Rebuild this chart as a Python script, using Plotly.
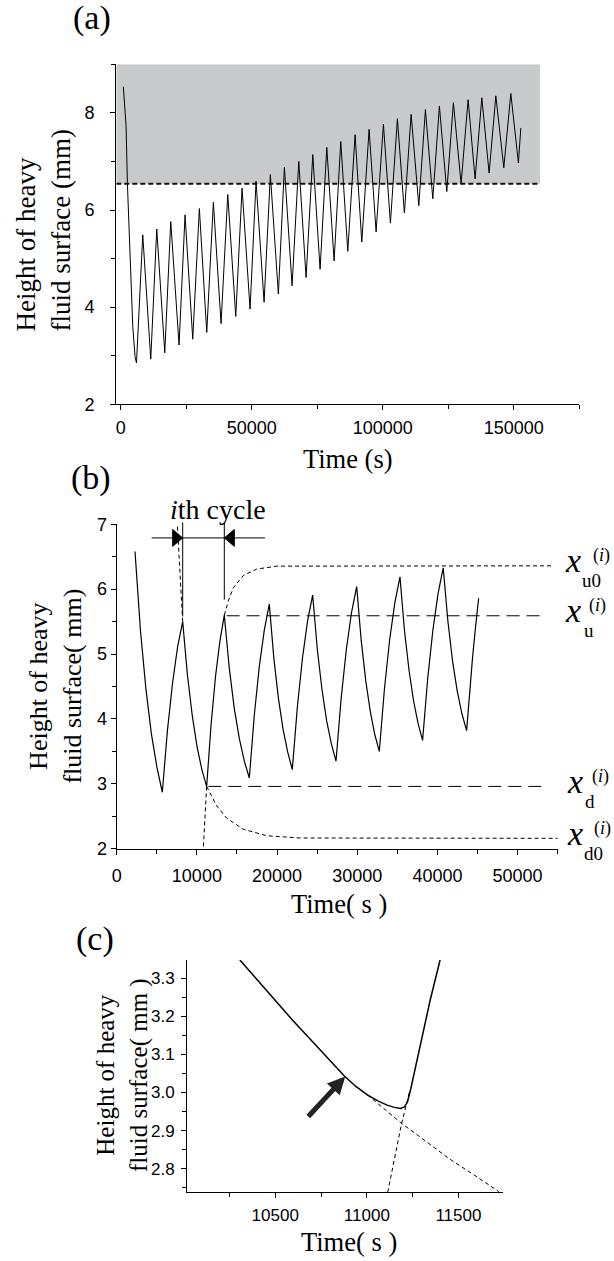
import plotly.graph_objects as go

W, H = 614, 1261

# ---------------- data ----------------
# (a) long-run record of the heavy-fluid surface height
a_time = [990, 2020, 2530, 3550, 4580, 5460, 6000,
          8400, 11450, 13740, 16800, 19080, 22250, 24540, 27480, 30000, 32820,
          35350, 38280, 40840, 43890, 46300, 49350, 51640, 54700, 57100, 60150,
          62450, 65390, 67940, 70730, 73290, 76070, 78630, 81420, 83970, 86640,
          89430, 91990, 94780, 97450, 100240, 102910, 105580, 108250, 110810,
          113750, 116270, 119090, 121610, 124430, 126950, 129890, 132560, 135230,
          137800, 140580, 143140, 146190, 148860, 151760, 152680]
a_height = [8.54, 7.74, 6.56, 4.88, 3.60, 2.98, 2.85,
            5.49, 2.93, 5.61, 3.06, 5.76, 3.22, 5.90, 3.34, 6.03, 3.48,
            6.16, 3.66, 6.32, 3.81, 6.45, 3.96, 6.59, 4.10, 6.73, 4.27,
            6.88, 4.44, 7.00, 4.61, 7.14, 4.78, 7.29, 4.95, 7.41, 5.15,
            7.55, 5.34, 7.66, 5.55, 7.77, 5.73, 7.88, 5.94, 7.97,
            6.09, 8.07, 6.23, 8.14, 6.38, 8.21, 6.54, 8.27, 6.64,
            8.31, 6.76, 8.35, 6.87, 8.40, 6.97, 7.69]
a_threshold = 6.54
a_shade_end = 160000
a_xrange = [-1700, 175000]
a_yrange = [2, 9]

# (b) first cycles
b_time = [2282, 2964, 3645, 4327, 5008, 5690, 6325, 6960, 7595, 8230,
          8828, 9426, 10024, 10622, 11220, 11770, 12320, 12870, 13420,
          14044, 14668, 15292, 15916, 16540, 17163, 17785, 18408, 19030,
          19604, 20178, 20752, 21326, 21900, 22535, 23170, 23805, 24440,
          25022, 25604, 26186, 26768, 27350, 27995, 28640, 29285, 29930,
          30494, 31058, 31622, 32186, 32750, 33395, 34040, 34685, 35330,
          35894, 36458, 37022, 37586, 38150, 38793, 39435, 40078, 40720,
          41304, 41888, 42472, 43056, 43640, 44015, 44390, 44765, 45140]
b_height = [6.58, 5.36, 4.46, 3.77, 3.26, 2.87, 3.82, 4.55, 5.11, 5.50,
            4.67, 4.05, 3.57, 3.22, 2.96, 3.91, 4.65, 5.20, 5.60,
            4.78, 4.16, 3.70, 3.35, 3.09, 4.06, 4.81, 5.37, 5.77,
            4.93, 4.31, 3.84, 3.49, 3.22, 4.19, 4.94, 5.51, 5.91,
            5.07, 4.45, 3.97, 3.62, 3.35, 4.32, 5.07, 5.64, 6.04,
            5.21, 4.59, 4.12, 3.76, 3.50, 4.47, 5.22, 5.79, 6.19,
            5.36, 4.75, 4.28, 3.93, 3.67, 4.63, 5.37, 5.93, 6.33,
            5.51, 4.89, 4.43, 4.08, 3.82, 4.43, 4.96, 5.43, 5.86]
xu0_level, xu_level, xd_level, xd0_level = 6.36, 5.59, 2.96, 2.16
b_xu0_t = [13420, 13950, 14540, 15790, 17460, 19950, 54200]
b_xu0_h = [5.60, 5.83, 6.02, 6.21, 6.31, 6.355, 6.36]
b_xd0_t = [11220, 12470, 13716, 15790, 18700, 22850, 55000]
b_xd0_h = [2.96, 2.66, 2.47, 2.30, 2.20, 2.165, 2.16]
b_riseback_t = [11220, 11030, 10800]
b_riseback_h = [2.96, 2.50, 2.00]
b_fallback_t = [8230, 7900, 7560]
b_fallback_h = [5.50, 6.25, 7.00]
b_xu_span = [13700, 53600]
b_xd_span = [11420, 53600]
cycle_bounds = [8230, 13420]
cycle_line_bottoms = [5.58, 5.84]
cycle_bar_level = 6.79
cycle_bar_span = [4360, 18490]
b_xrange = [0, 55000]
b_yrange = [2, 7]

# (c) zoom on the i-th minimum
c_time = [10307, 10400, 10496, 10600, 10713, 10800, 10876, 10940, 11003, 11060,
          11111, 11150, 11184, 11205, 11222, 11240, 11274, 11346, 11400]
c_height = [3.348, 3.297, 3.243, 3.187, 3.129, 3.083, 3.044, 3.016, 2.994, 2.978,
            2.967, 2.961, 2.958, 2.962, 2.975, 3.010, 3.086, 3.243, 3.348]
c_fallext_t = [11003, 11100, 11190, 11300, 11450, 11590, 11720]
c_fallext_h = [2.994, 2.956, 2.919, 2.880, 2.826, 2.782, 2.740]
c_riseext_t = [11114, 11190, 11232]
c_riseext_h = [2.738, 2.919, 3.000]
c_arrow_tail = (10673, 2.933)
c_arrow_tip = (10882, 3.042)
c_xrange = [10020, 11745]
c_yrange = [2.738, 3.348]

# ---------------- styling helpers ----------------
SERIF = 'Liberation Serif, Times New Roman, serif'
SANS = 'Liberation Sans, Arial, sans-serif'
DOT = '4px,3px'
LONGDASH = '13px,7px'


def dom_x(p0, p1):
    return [p0 / W, p1 / W]


def dom_y(top, bottom):
    return [1 - bottom / H, 1 - top / H]


def axis_style(**kw):
    base = dict(showline=True, linecolor='black', linewidth=1.3, mirror=False,
                ticks='outside', ticklen=5, tickwidth=1.2, tickcolor='black',
                showgrid=False, zeroline=False,
                tickfont=dict(family=SANS, size=18, color='black'))
    base.update(kw)
    return base


fig = go.Figure()

# (a)
fig.add_trace(go.Scatter(x=a_time, y=a_height, mode='lines',
                         line=dict(color='black', width=1),
                         xaxis='x', yaxis='y', hoverinfo='skip'))
fig.add_trace(go.Scatter(x=[a_xrange[0], a_shade_end], y=[a_threshold, a_threshold],
                         mode='lines', line=dict(color='#111111', width=2, dash='5px,3px'),
                         xaxis='x', yaxis='y', hoverinfo='skip'))

# (b)
dotted = dict(color='black', width=1, dash=DOT)
fig.add_trace(go.Scatter(x=b_time, y=b_height, mode='lines',
                         line=dict(color='black', width=1.2),
                         xaxis='x2', yaxis='y2', hoverinfo='skip'))
for tt, hh in [(b_xu0_t, b_xu0_h), (b_xd0_t, b_xd0_h),
               (b_riseback_t, b_riseback_h), (b_fallback_t, b_fallback_h)]:
    fig.add_trace(go.Scatter(x=tt, y=hh, mode='lines', line=dotted,
                             xaxis='x2', yaxis='y2', hoverinfo='skip'))
for span, lev in [(b_xu_span, xu_level), (b_xd_span, xd_level)]:
    fig.add_trace(go.Scatter(x=span, y=[lev, lev], mode='lines',
                             line=dict(color='black', width=1, dash=LONGDASH),
                             xaxis='x2', yaxis='y2', hoverinfo='skip'))

# (c)
fig.add_trace(go.Scatter(x=c_time, y=c_height, mode='lines',
                         line=dict(color='black', width=1.5),
                         xaxis='x3', yaxis='y3', hoverinfo='skip'))
for tt, hh in [(c_fallext_t, c_fallext_h), (c_riseext_t, c_riseext_h)]:
    fig.add_trace(go.Scatter(x=tt, y=hh, mode='lines', line=dotted,
                             xaxis='x3', yaxis='y3', hoverinfo='skip'))

# ---------------- shapes ----------------
shapes = []
shapes.append(dict(type='rect', xref='x', yref='y', x0=a_xrange[0], x1=a_shade_end,
                   y0=a_threshold, y1=a_yrange[1], fillcolor='#c9cacc',
                   line=dict(width=0), layer='below'))
# i-th cycle markers
shapes.append(dict(type='line', xref='x2', yref='y2', x0=cycle_bar_span[0], x1=cycle_bar_span[1],
                   y0=cycle_bar_level, y1=cycle_bar_level, line=dict(color='black', width=1)))
ydom = lambda v: (v - b_yrange[0]) / (b_yrange[1] - b_yrange[0])
for cb, bot in zip(cycle_bounds, cycle_line_bottoms):
    shapes.append(dict(type='line', xref='x2', yref='y2 domain', x0=cb, x1=cb,
                       y0=ydom(bot), y1=ydom(7.03), line=dict(color='black', width=1)))
tri_w = 1250
tri_h = 0.13
l0 = cycle_bounds[0]
r0 = cycle_bounds[1]
shapes.append(dict(type='path', xref='x2', yref='y2',
                   path=f'M {l0 - tri_w},{cycle_bar_level + tri_h} L {l0},{cycle_bar_level} '
                        f'L {l0 - tri_w},{cycle_bar_level - tri_h} Z',
                   fillcolor='black', line=dict(color='black', width=1)))
shapes.append(dict(type='path', xref='x2', yref='y2',
                   path=f'M {r0 + tri_w},{cycle_bar_level + tri_h} L {r0},{cycle_bar_level} '
                        f'L {r0 + tri_w},{cycle_bar_level - tri_h} Z',
                   fillcolor='black', line=dict(color='black', width=1)))

# ---------------- annotations ----------------
ann = []


def text_ann(text, px, py, size, angle=0, align='center', italic=False):
    return dict(text=text, x=px / W, y=1 - py / H, xref='paper', yref='paper',
                showarrow=False, textangle=angle, align=align,
                xanchor='center', yanchor='middle',
                font=dict(family=SERIF, size=size, color='black',
                          style='italic' if italic else 'normal'))


ann.append(text_ann('(a)', 92, 18, 34))
ann.append(text_ann('(b)', 91, 478, 34))
ann.append(text_ann('(c)', 94.5, 939, 34))
ann.append(text_ann('Time (s)', 348, 458.5, 26.5))
ann.append(text_ann('Time( s )', 339, 904, 26.5))
ann.append(text_ann('Time( s )', 348.5, 1242, 26.5))
ann.append(text_ann('Height of heavy<br>fluid surface (mm)', 42.5, 231, 27, angle=-90, align='left'))
ann.append(text_ann('Height of heavy<br>fluid surface( mm)', 56, 686.6, 26, angle=-90))
ann.append(text_ann('Height of heavy<br>fluid surface( mm )', 122, 1075, 25, angle=-90))
ann.append(text_ann('<i>i</i>th cycle', 217.5, 509, 28))

# right-hand level labels of (b)
labels = [  # (level, subscript, x of x-glyph, x of sub, x of sup)
    (xu0_level, 'u0', 572.5, 591.5, 601),
    (xu_level, 'u', 572.5, 588.5, 597),
    (xd_level, 'd', 575, 590, 600),
    (xd0_level, 'd0', 575, 593, 602),
]
for lev, sub, xg, xs, xp in labels:
    ann.append(dict(text='x', x=xg / W, y=lev, xref='paper', yref='y2', showarrow=False,
                    xanchor='center', yanchor='middle', yshift=5,
                    font=dict(family=SERIF, size=34, color='black', style='italic')))
    ann.append(dict(text=sub, x=xs / W, y=lev, xref='paper', yref='y2', showarrow=False,
                    xanchor='center', yanchor='middle', yshift=-15,
                    font=dict(family=SERIF, size=19, color='black')))
    ann.append(dict(text='(<i>i</i>)', x=xp / W, y=lev, xref='paper', yref='y2', showarrow=False,
                    xanchor='center', yanchor='middle', yshift=10,
                    font=dict(family=SERIF, size=18, color='black')))

# arrow in (c)
ann.append(dict(x=c_arrow_tip[0], y=c_arrow_tip[1], ax=c_arrow_tail[0], ay=c_arrow_tail[1],
                xref='x3', yref='y3', axref='x3', ayref='y3', text='', showarrow=True,
                arrowhead=2, arrowwidth=5, arrowsize=0.7, arrowcolor='#222222', standoff=0))

fig.update_layout(
    width=W, height=H, margin=dict(l=0, r=0, t=0, b=0),
    template='none', showlegend=False,
    plot_bgcolor='white', paper_bgcolor='white',
    shapes=shapes, annotations=ann,
    xaxis=axis_style(domain=dom_x(116.3, 579.3), anchor='y', range=a_xrange,
                     tick0=0, dtick=50000, tickformat='d', ticklabelstandoff=2,
                     minor=dict(dtick=25000, tick0=0, ticks='outside', ticklen=4, tickcolor='black')),
    yaxis=axis_style(domain=dom_y(64.3, 404.3), anchor='x', range=a_yrange,
                     tick0=0, dtick=2, ticklabelstandoff=12,
                     minor=dict(dtick=1, tick0=0, ticks='outside', ticklen=4, tickcolor='black')),
    xaxis2=axis_style(domain=dom_x(116.7, 557.7), anchor='y2', range=b_xrange,
                      tick0=0, dtick=10000, tickformat='d', ticklabelstandoff=6,
                      minor=dict(dtick=5000, tick0=0, ticks='outside', ticklen=4, tickcolor='black')),
    yaxis2=axis_style(domain=dom_y(524.3, 848.7), anchor='x2', range=b_yrange,
                      tick0=0, dtick=1, ticklabelstandoff=0,
                      minor=dict(dtick=0.5, tick0=0, ticks='outside', ticklen=4, tickcolor='black')),
    xaxis3=axis_style(domain=dom_x(187.3, 503.3), anchor='y3', range=c_xrange,
                      tick0=10000, dtick=500, tickformat='d', ticklabelstandoff=2,
                      tickfont=dict(family=SANS, size=17, color='black'),
                      minor=dict(dtick=250, tick0=10000, ticks='outside', ticklen=4, tickcolor='black')),
    yaxis3=axis_style(domain=dom_y(960, 1192.3), anchor='x3', range=c_yrange,
                      tick0=2.8, dtick=0.1, tickformat='.1f', ticklabelstandoff=3,
                      tickfont=dict(family=SANS, size=17, color='black'),
                      minor=dict(dtick=0.05, tick0=2.8, ticks='outside', ticklen=4, tickcolor='black')),
)

fig.write_html("out.html", config={'displayModeBar': False},
               post_script="document.body.style.margin='0';")
